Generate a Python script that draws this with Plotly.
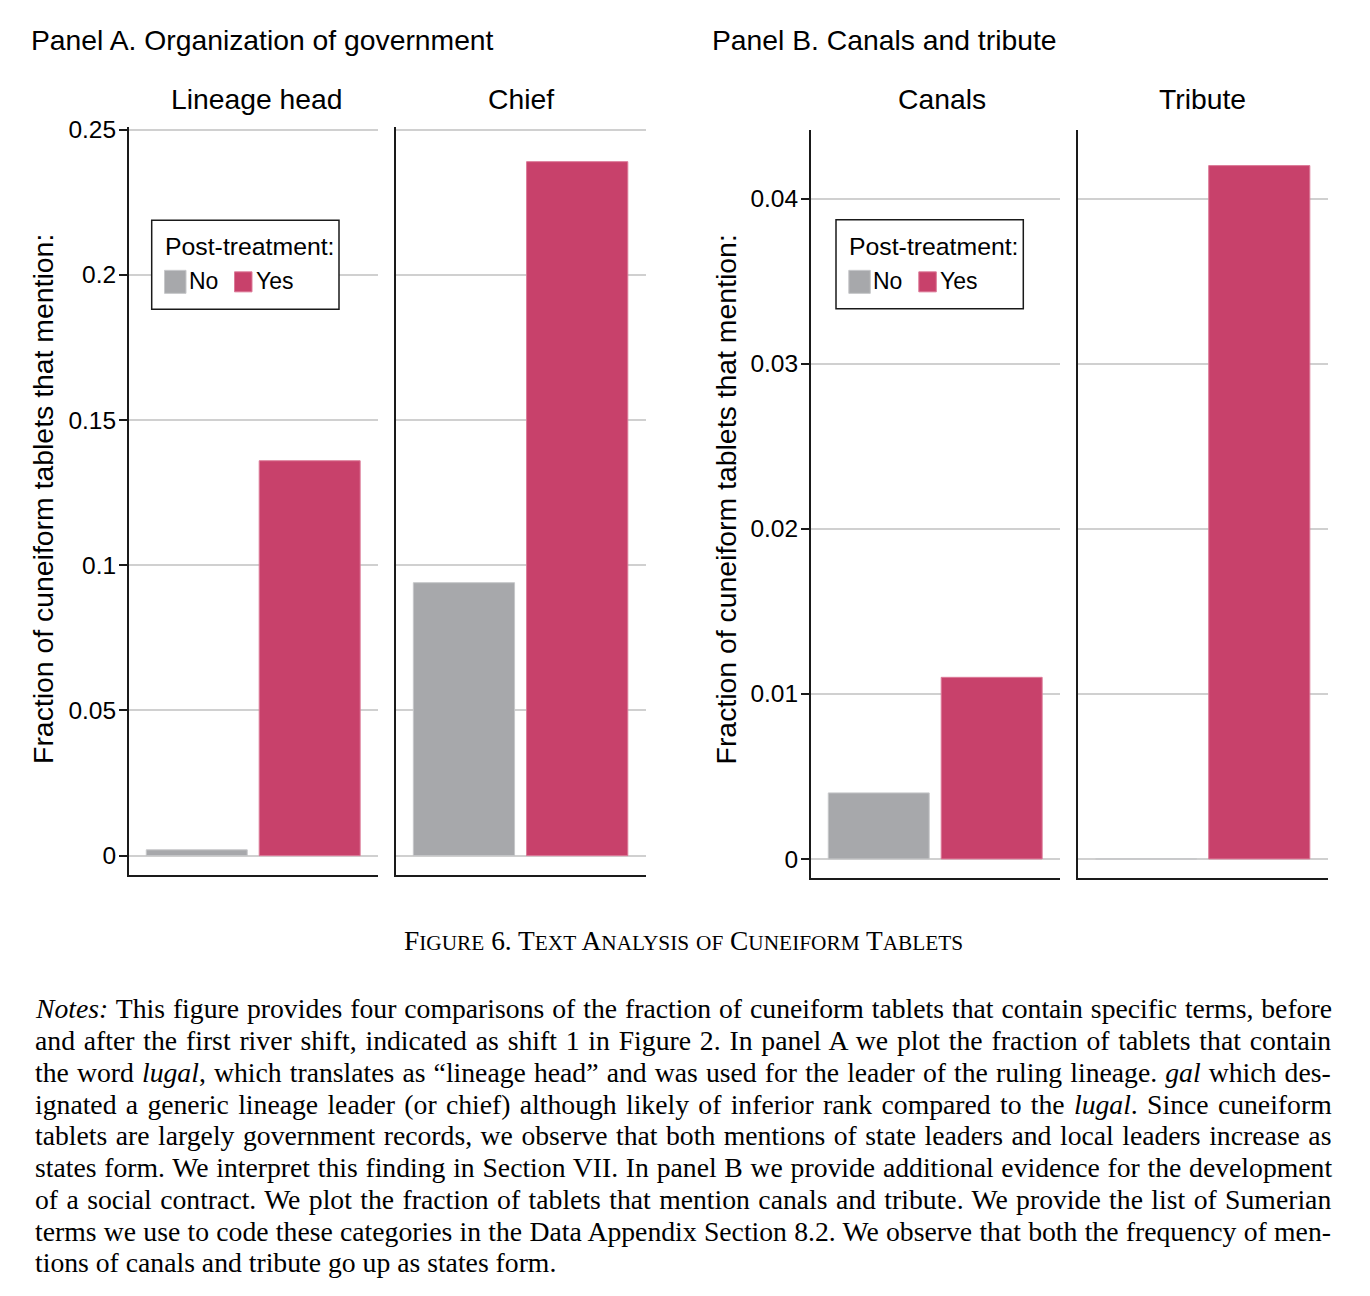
import plotly.graph_objects as go

# ---------------- data ----------------
groups = ["No", "Yes"]
lineage_head = [0.002, 0.136]
chief = [0.094, 0.239]
canals = [0.004, 0.011]
tribute = [0.0, 0.042]

panelA_ticks = [0, 0.05, 0.1, 0.15, 0.2, 0.25]
panelA_labels = ["0", "0.05", "0.1", "0.15", "0.2", "0.25"]
panelB_ticks = [0, 0.01, 0.02, 0.03, 0.04]
panelB_labels = ["0", "0.01", "0.02", "0.03", "0.04"]

subplot_titles = ["Lineage head", "Chief", "Canals", "Tribute"]
panel_titles = ["Panel A. Organization of government", "Panel B. Canals and tribute"]
y_title = "Fraction of cuneiform tablets that mention:"
legend_title = "Post-treatment:"
caption_parts = [("F", "IGURE"), ("", " 6. "), ("T", "EXT"), ("", " "), ("A", "NALYSIS"),
                 ("", " "), ("", "OF"), ("", " "), ("C", "UNEIFORM"), ("", " "), ("T", "ABLETS")]
notes_lines = [
    "<i>Notes:</i> This figure provides four comparisons of the fraction of cuneiform tablets that contain specific terms, before",
    "and after the first river shift, indicated as shift 1 in Figure 2. In panel A we plot the fraction of tablets that contain",
    "the word <i>lugal</i>, which translates as \u201clineage head\u201d and was used for the leader of the ruling lineage. <i>gal</i> which des-",
    "ignated a generic lineage leader (or chief) although likely of inferior rank compared to the <i>lugal</i>. Since cuneiform",
    "tablets are largely government records, we observe that both mentions of state leaders and local leaders increase as",
    "states form. We interpret this finding in Section VII. In panel B we provide additional evidence for the development",
    "of a social contract. We plot the fraction of tablets that mention canals and tribute. We provide the list of Sumerian",
    "terms we use to code these categories in the Data Appendix Section 8.2. We observe that both the frequency of men-",
    "tions of canals and tribute go up as states form.",
]
# extra word spacing (px) per line to imitate the justified paragraph
notes_word_spacing = [1.02, 1.9, 1.2, 2.38, 1.58, 0.82, 1.5, 0.35, 0]

# ---------------- styles ----------------
W, H = 1370, 1296
GRAY = "#a7a8ab"
RED = "#c8416b"
GRID = "#d0d0d0"
AXIS = "#1a1a1a"
SANS = "Liberation Sans, Arial, sans-serif"
SERIF = "Liberation Serif, Times New Roman, serif"


def px(x):
    return x / W


def py(y):
    # map a target pixel row to paper coordinates (small empirical vertical correction)
    yy = (y - 11.8) / 0.991
    return 1 - yy / H


fig = go.Figure()

series = [lineage_head, chief, canals, tribute]
xdomains = [(129, 378), (396, 645.7), (811, 1060), (1078.3, 1327.7)]
ydomA = (875.3, 127.7)
ydomB = (878.7, 131.0)
rangeA = [-0.00665, 0.25095]
rangeB = [-0.001176, 0.04414]

for i, vals in enumerate(series):
    n = "" if i == 0 else str(i + 1)
    fig.add_trace(go.Bar(
        x=groups, y=vals, xaxis="x" + n, yaxis="y" + n,
        marker=dict(color=[GRAY, RED], line=dict(color=["#c6c7c9", "#dc7a98"], width=1)),
        width=0.894, showlegend=False, hoverinfo="x+y",
    ))

layout = dict(
    width=W, height=H, autosize=False,
    margin=dict(l=0, r=0, t=0, b=0),
    paper_bgcolor="white", plot_bgcolor="white",
    font=dict(family=SANS, color="black"),
)

for i in range(4):
    n = "" if i == 0 else str(i + 1)
    x0, x1 = xdomains[i]
    panelA = i < 2
    yd = ydomA if panelA else ydomB
    layout["xaxis" + n] = dict(
        domain=[px(x0), px(x1)], anchor="y" + n, type="category",
        range=[-0.6, 1.605], showticklabels=False, ticks="", showgrid=False,
        zeroline=False, showline=True, linecolor=AXIS, linewidth=2, fixedrange=True,
    )
    first = i in (0, 2)
    layout["yaxis" + n] = dict(
        domain=[py(yd[0]), py(yd[1])], anchor="x" + n,
        range=rangeA if panelA else rangeB,
        tickvals=panelA_ticks if panelA else panelB_ticks,
        ticktext=panelA_labels if panelA else panelB_labels,
        showticklabels=first, ticks="outside" if first else "",
        ticklen=8, tickwidth=1.5, tickcolor=AXIS, ticklabelstandoff=-2,
        tickfont=dict(family=SANS, size=24.5, color="black"),
        showgrid=True, gridcolor=GRID, gridwidth=1.5,
        zeroline=True, zerolinecolor=GRID, zerolinewidth=1.5,
        showline=True, linecolor=AXIS, linewidth=2, fixedrange=True,
    )

fig.update_layout(**layout)

ann = []
# panel titles
ann.append(dict(text=panel_titles[0], x=px(29), y=py(41), xanchor="left", yanchor="middle",
                font=dict(family=SANS, size=28.3, color="black")))
ann.append(dict(text=panel_titles[1], x=px(710), y=py(41), xanchor="left", yanchor="middle",
                font=dict(family=SANS, size=28.3, color="black")))
# subplot titles
title_centers = [257, 520.5, 942, 1202.5]
for t, cx in zip(subplot_titles, title_centers):
    ann.append(dict(text=t, x=px(cx), y=py(100), xanchor="center", yanchor="middle",
                    font=dict(family=SANS, size=28.3, color="black")))
# y axis titles
for cx in (43.5, 726):
    ann.append(dict(text=y_title, x=px(cx), y=py(500), xanchor="center", yanchor="middle",
                    textangle=-90, font=dict(family=SANS, size=28.4, color="black")))

# legends (box, swatches, text)
shapes = []
for (bx0, bx1, by0, by1, off) in [(151.7, 339, 221, 310, 0), (836, 1023.3, 220.5, 309.3, 684.3)]:
    shapes.append(dict(type="rect", xref="paper", yref="paper",
                       x0=px(bx0), x1=px(bx1), y0=py(by1), y1=py(by0),
                       line=dict(color=AXIS, width=1.5), fillcolor="white", layer="above"))
    shapes.append(dict(type="rect", xref="paper", yref="paper",
                       x0=px(164.5 + off), x1=px(186 + off), y0=py(294), y1=py(271),
                       line=dict(color="#c6c7c9", width=1), fillcolor=GRAY, layer="above"))
    shapes.append(dict(type="rect", xref="paper", yref="paper",
                       x0=px(234.5 + off), x1=px(252 + off), y0=py(292.5), y1=py(272.5),
                       line=dict(color="#dc7a98", width=1), fillcolor=RED, layer="above"))
    ann.append(dict(text=legend_title, x=px(162.5 + off), y=py(247), xanchor="left", yanchor="middle",
                    font=dict(family=SANS, size=24.8, color="black")))
    ann.append(dict(text=groups[0], x=px(187 + off), y=py(282), xanchor="left", yanchor="middle",
                    font=dict(family=SANS, size=23, color="black")))
    ann.append(dict(text=groups[1], x=px(253.5 + off), y=py(282), xanchor="left", yanchor="middle",
                    font=dict(family=SANS, size=23, color="black")))

# caption with small caps
cap = ""
for big, small in caption_parts:
    if big:
        cap += big
    if small:
        if small.strip() and small.strip().isalpha():
            cap += "<span style='font-size:21.3px'>" + small + "</span>"
        else:
            cap += small
ann.append(dict(text=cap, x=px(683.5), y=py(941), xanchor="center", yanchor="middle",
                font=dict(family=SERIF, size=27.4, color="black")))

# notes
for k, line in enumerate(notes_lines):
    ws = notes_word_spacing[k]
    txt = "<span style='word-spacing:%.2fpx'>%s</span>" % (ws, line) if ws else line
    ann.append(dict(text=txt, x=px(33), y=py(1009 + 31.75 * k), xanchor="left", yanchor="middle",
                    font=dict(family=SERIF, size=27.7, color="black")))

for a in ann:
    a.setdefault("xref", "paper")
    a.setdefault("yref", "paper")
    a.setdefault("showarrow", False)

fig.update_layout(annotations=ann, shapes=shapes)
fig.write_html("out.html", config={"displayModeBar": False},
               post_script="document.body.style.margin='0';document.body.style.overflow='hidden';")
